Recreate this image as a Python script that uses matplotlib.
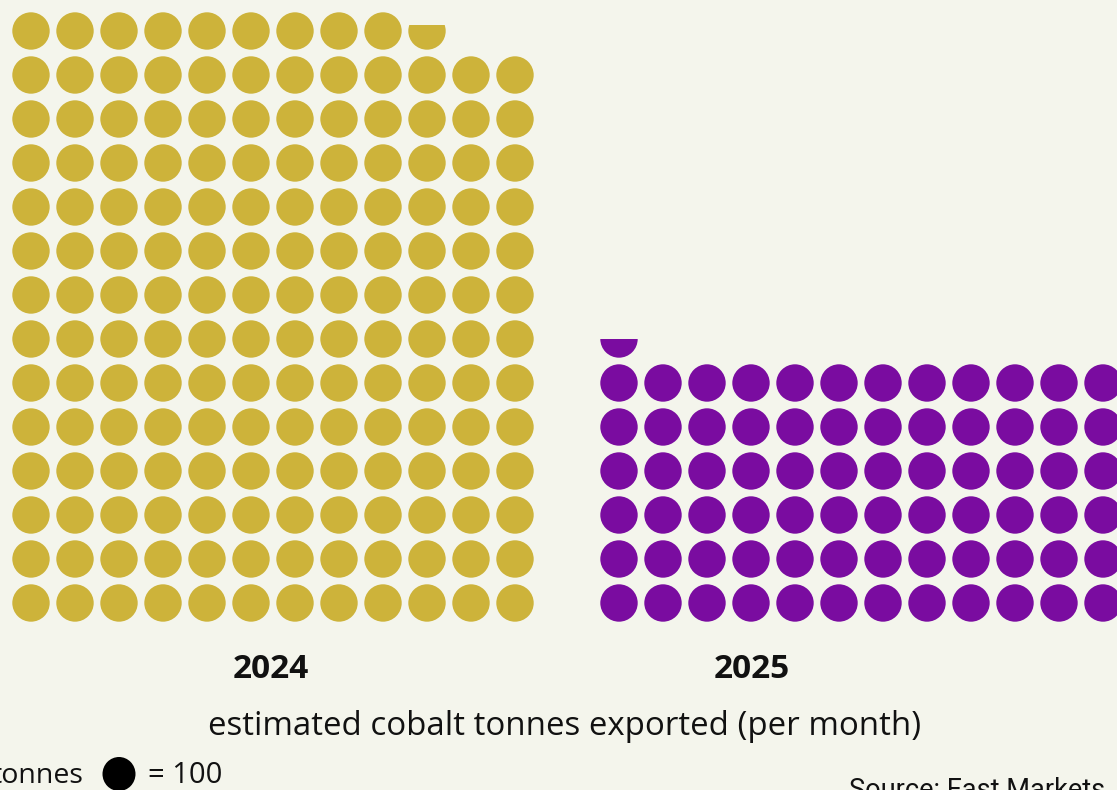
import numpy as np
import matplotlib
matplotlib.use("Agg")
import matplotlib.pyplot as plt
from matplotlib.patches import Circle, Rectangle, Ellipse

# ---- data ----
years = ["2024", "2025"]
tonnes = [16570, 7250]          # estimated cobalt tonnes exported per month
tonnes_per_dot = 100
colors = ["#CDB33A", "#7A0CA0"]
n_cols = 12
title = "estimated cobalt tonnes exported (per month)"
legend_left = "tonnes"
legend_right = "= 100"
source = "Source: Fast Markets"

W, H = 1117, 790
bg = "#F4F5EC"
fig = plt.figure(figsize=(W / 100, H / 100), dpi=100)
fig.patch.set_facecolor(bg)
plt.rcParams['font.family'] = ['Open Sans', 'DejaVu Sans']

pitch = 44
n_rows_axis = 14
r = 0.425


def fx(px):
    return px / W


def fy(py):
    return (H - py) / H


lefts = [9, 597]
label_x = [271, 752]
for year, t, col, left, lx in zip(years, tonnes, colors, lefts, label_x):
    ax = fig.add_axes([fx(left), fy(625), n_cols * pitch / W, n_rows_axis * pitch / H])
    ax.set_xlim(-0.5, n_cols - 0.5)
    ax.set_ylim(-0.5, n_rows_axis - 0.5)
    ax.axis('off')
    ax.patch.set_alpha(0)
    dots = t / tonnes_per_dot
    full = int(dots)
    frac = dots - full
    for i in range(full):
        row, c = divmod(i, n_cols)
        ax.add_patch(Circle((c, row), r, facecolor=col, edgecolor='none'))
    if frac > 1e-9:
        row, c = divmod(full, n_cols)
        hs = np.linspace(0, 2 * r, 4001)
        d = r - hs
        area = r * r * np.arccos(np.clip(d / r, -1, 1)) - d * np.sqrt(np.maximum(r * r - d * d, 0))
        h = hs[min(np.searchsorted(area / (np.pi * r * r), frac), len(hs) - 1)]
        circ = Circle((c, row), r, facecolor=col, edgecolor='none')
        ax.add_patch(circ)
        clip = Rectangle((c - r, row - r), 2 * r, h, transform=ax.transData)
        circ.set_clip_path(clip)
    fig.text(fx(lx), fy(678), year, ha='center', va='baseline', fontsize=24,
             fontweight='bold', color='#111111')

fig.text(fx(565), fy(735), title, ha='center', va='baseline', fontsize=23.8, color='#111111')
fig.text(fx(83), fy(783), legend_left, ha='right', va='baseline', fontsize=20.5, color='#111111')
fig.patches.append(Ellipse((fx(119), fy(774)), 33 / W, 34 / H, transform=fig.transFigure,
                           facecolor='black', edgecolor='none'))
fig.text(fx(148), fy(783), legend_right, ha='left', va='baseline', fontsize=21, color='#111111')
fig.text(fx(849), fy(798), source, ha='left', va='baseline', fontsize=19.5,
         family=['Roboto', 'DejaVu Sans'], color='#111111')

fig.savefig("out.png", dpi=100, facecolor=bg)
